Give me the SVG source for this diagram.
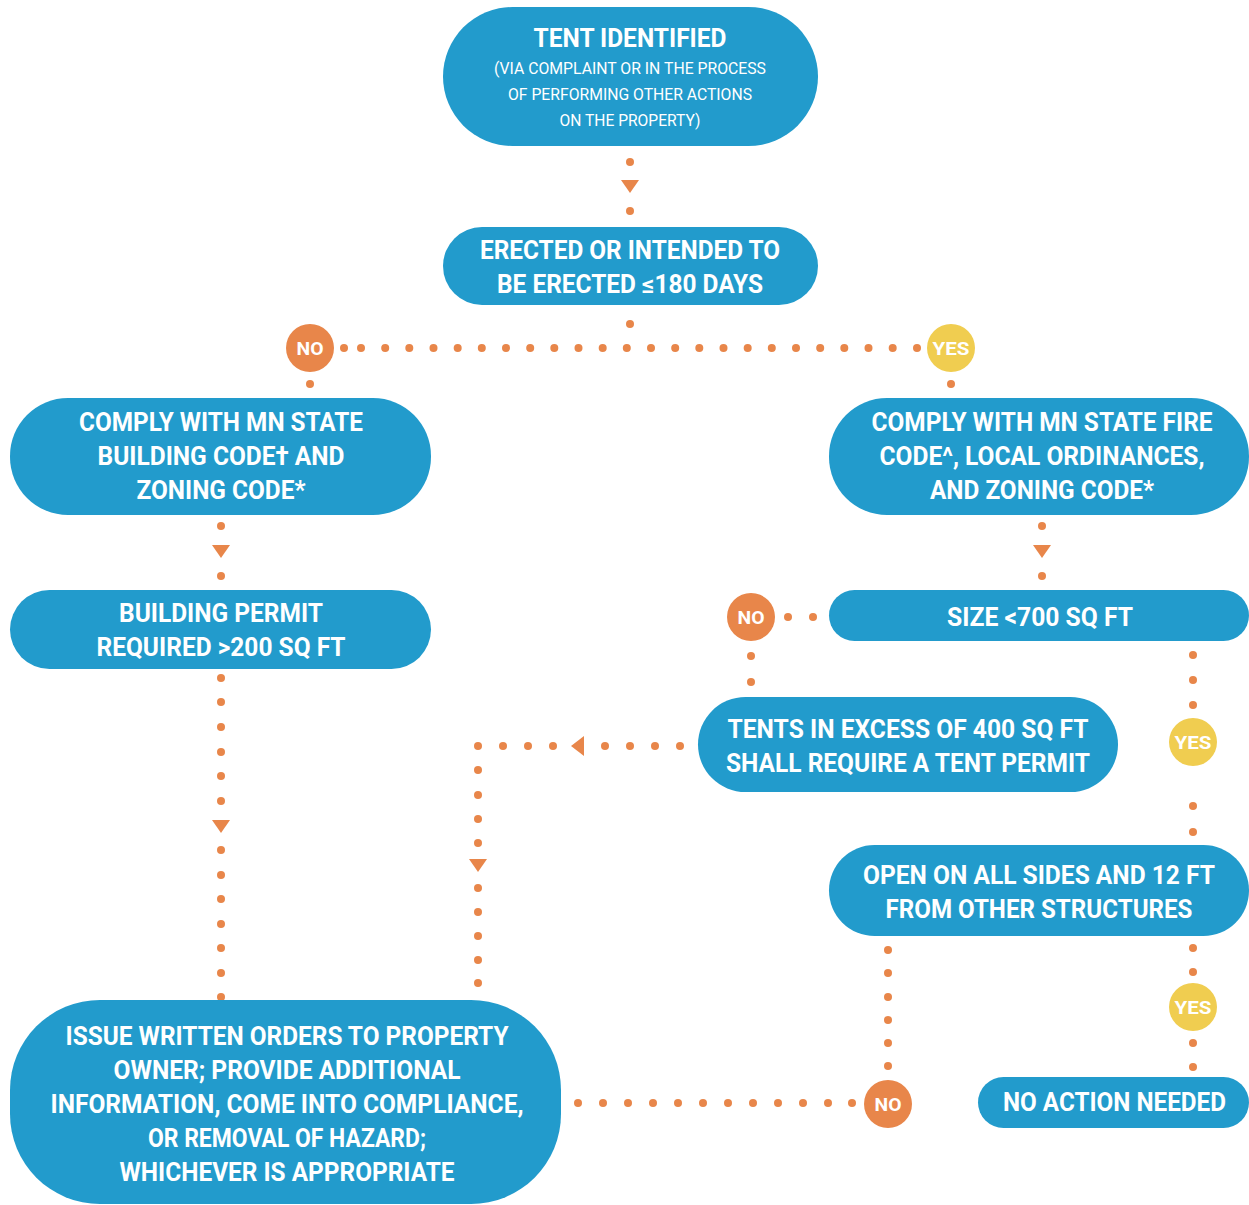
<svg xmlns="http://www.w3.org/2000/svg" width="1249" height="1205" viewBox="0 0 1249 1205">
<style>
.box{fill:#229bcc}
.t{font-family:Roboto,"Liberation Sans",sans-serif;font-weight:700;font-size:25px;fill:#fff;text-anchor:middle}
.s{font-family:Roboto,"Liberation Sans",sans-serif;font-weight:400;font-size:16.5px;fill:#fff;text-anchor:middle}
.b{font-family:Roboto,"Liberation Sans",sans-serif;font-weight:700;font-size:18px;fill:#fff;text-anchor:middle}
.no{fill:#e8864a}
.yes{fill:#f0cd50}
.d{fill:#e8864a}
</style>
<defs>
<circle id="dot" r="4" class="d"/>
<polygon id="tridown" points="-9,-6 9,-6 0,7" class="d"/>
<polygon id="trileft" points="-7,0 6,-10 6,10" class="d"/>
</defs>
<rect width="1249" height="1205" fill="#fff"/>
<g id="connectors">
  <use href="#dot" x="630" y="162"/><use href="#tridown" x="630" y="186"/><use href="#dot" x="630" y="211"/>
  <use href="#dot" x="630" y="324"/>
  <use href="#dot" x="344" y="348"/>
  <g id="hdots">
    <use href="#dot" x="361" y="348"/><use href="#dot" x="385.2" y="348"/><use href="#dot" x="409.3" y="348"/><use href="#dot" x="433.5" y="348"/><use href="#dot" x="457.7" y="348"/><use href="#dot" x="481.8" y="348"/><use href="#dot" x="506" y="348"/><use href="#dot" x="530.2" y="348"/><use href="#dot" x="554.3" y="348"/><use href="#dot" x="578.5" y="348"/><use href="#dot" x="602.7" y="348"/><use href="#dot" x="626.8" y="348"/><use href="#dot" x="651" y="348"/><use href="#dot" x="675.2" y="348"/><use href="#dot" x="699.3" y="348"/><use href="#dot" x="723.5" y="348"/><use href="#dot" x="747.7" y="348"/><use href="#dot" x="771.8" y="348"/><use href="#dot" x="796" y="348"/><use href="#dot" x="820.2" y="348"/><use href="#dot" x="844.3" y="348"/><use href="#dot" x="868.5" y="348"/><use href="#dot" x="892.7" y="348"/><use href="#dot" x="917" y="348"/>
  </g>
  <use href="#dot" x="310" y="384"/><use href="#dot" x="951" y="384"/>
  <use href="#dot" x="221" y="526"/><use href="#tridown" x="221" y="551"/><use href="#dot" x="221" y="576"/>
  <use href="#dot" x="1042" y="526"/><use href="#tridown" x="1042" y="551"/><use href="#dot" x="1042" y="576"/>
  <use href="#dot" x="221" y="678"/><use href="#dot" x="221" y="702"/><use href="#dot" x="221" y="727"/><use href="#dot" x="221" y="752"/><use href="#dot" x="221" y="776"/><use href="#dot" x="221" y="801"/>
  <use href="#tridown" x="221" y="826"/>
  <use href="#dot" x="221" y="850"/><use href="#dot" x="221" y="875"/><use href="#dot" x="221" y="899"/><use href="#dot" x="221" y="924"/><use href="#dot" x="221" y="948"/><use href="#dot" x="221" y="973"/><use href="#dot" x="221" y="997"/>
  <use href="#dot" x="788" y="617"/><use href="#dot" x="813" y="617"/>
  <use href="#dot" x="751" y="656"/><use href="#dot" x="751" y="682"/>
  <use href="#dot" x="1193" y="655"/><use href="#dot" x="1193" y="680"/><use href="#dot" x="1193" y="705"/>
  <use href="#dot" x="1193" y="806"/><use href="#dot" x="1193" y="832"/>
  <use href="#dot" x="680" y="746"/><use href="#dot" x="655" y="746"/><use href="#dot" x="630" y="746"/><use href="#dot" x="605" y="746"/>
  <use href="#trileft" x="578" y="746"/>
  <use href="#dot" x="553" y="746"/><use href="#dot" x="528" y="746"/><use href="#dot" x="503" y="746"/><use href="#dot" x="478" y="746"/>
  <use href="#dot" x="478" y="770"/><use href="#dot" x="478" y="795"/><use href="#dot" x="478" y="819"/><use href="#dot" x="478" y="843"/>
  <use href="#tridown" x="478" y="865"/>
  <use href="#dot" x="478" y="888"/><use href="#dot" x="478" y="912"/><use href="#dot" x="478" y="936"/><use href="#dot" x="478" y="960"/><use href="#dot" x="478" y="983"/>
  <use href="#dot" x="888" y="950"/><use href="#dot" x="888" y="973"/><use href="#dot" x="888" y="997"/><use href="#dot" x="888" y="1020"/><use href="#dot" x="888" y="1043"/><use href="#dot" x="888" y="1066"/>
  <use href="#dot" x="578" y="1103"/><use href="#dot" x="603" y="1103"/><use href="#dot" x="628" y="1103"/><use href="#dot" x="653" y="1103"/><use href="#dot" x="678" y="1103"/><use href="#dot" x="703" y="1103"/><use href="#dot" x="728" y="1103"/><use href="#dot" x="753" y="1103"/><use href="#dot" x="778" y="1103"/><use href="#dot" x="803" y="1103"/><use href="#dot" x="828" y="1103"/><use href="#dot" x="852" y="1103"/>
  <use href="#dot" x="1193" y="948"/><use href="#dot" x="1193" y="972"/>
  <use href="#dot" x="1193" y="1043"/><use href="#dot" x="1193" y="1067"/>
</g>
<g id="tent-identified">
  <rect class="box" x="443" y="7" width="375" height="139" rx="69.5"/>
  <text class="t" x="630" y="47" font-size="26" textLength="193" lengthAdjust="spacingAndGlyphs">TENT IDENTIFIED</text>
  <text class="s" x="630" y="74" textLength="272" lengthAdjust="spacingAndGlyphs">(VIA COMPLAINT OR IN THE PROCESS</text>
  <text class="s" x="630" y="100" textLength="244" lengthAdjust="spacingAndGlyphs">OF PERFORMING OTHER ACTIONS</text>
  <text class="s" x="630" y="126" textLength="141" lengthAdjust="spacingAndGlyphs">ON THE PROPERTY)</text>
</g>
<g id="erected">
  <rect class="box" x="443" y="227" width="375" height="78" rx="39"/>
  <text class="t" x="630" y="259" textLength="300" lengthAdjust="spacingAndGlyphs">ERECTED OR INTENDED TO</text>
  <text class="t" x="630" y="293" textLength="266" lengthAdjust="spacingAndGlyphs">BE ERECTED ≤180 DAYS</text>
</g>
<g id="no1">
  <circle class="no" cx="310" cy="348" r="24"/>
  <text class="b" x="310" y="355" textLength="27" lengthAdjust="spacingAndGlyphs">NO</text>
</g>
<g id="yes1">
  <circle class="yes" cx="951" cy="348" r="24"/>
  <text class="b" x="951" y="355" textLength="37" lengthAdjust="spacingAndGlyphs">YES</text>
</g>
<g id="comply-building">
  <rect class="box" x="10" y="398" width="421" height="117" rx="58"/>
  <text class="t" x="221" y="431" textLength="284" lengthAdjust="spacingAndGlyphs">COMPLY WITH MN STATE</text>
  <text class="t" x="221" y="465" textLength="247" lengthAdjust="spacingAndGlyphs">BUILDING CODE† AND</text>
  <text class="t" x="221" y="499" textLength="169" lengthAdjust="spacingAndGlyphs">ZONING CODE*</text>
</g>
<g id="comply-fire">
  <rect class="box" x="829" y="398" width="420" height="117" rx="58"/>
  <text class="t" x="1042" y="431" textLength="341" lengthAdjust="spacingAndGlyphs">COMPLY WITH MN STATE FIRE</text>
  <text class="t" x="1042" y="465" textLength="325" lengthAdjust="spacingAndGlyphs">CODE^, LOCAL ORDINANCES,</text>
  <text class="t" x="1042" y="499" textLength="224" lengthAdjust="spacingAndGlyphs">AND ZONING CODE*</text>
</g>
<g id="building-permit">
  <rect class="box" x="10" y="590" width="421" height="79" rx="39.5"/>
  <text class="t" x="221" y="622" textLength="204" lengthAdjust="spacingAndGlyphs">BUILDING PERMIT</text>
  <text class="t" x="221" y="656" textLength="249" lengthAdjust="spacingAndGlyphs">REQUIRED &gt;200 SQ FT</text>
</g>
<g id="size">
  <rect class="box" x="829" y="590" width="420" height="51" rx="25.5"/>
  <text class="t" x="1040" y="626" textLength="186" lengthAdjust="spacingAndGlyphs">SIZE &lt;700 SQ FT</text>
</g>
<g id="no2">
  <circle class="no" cx="751" cy="617" r="24"/>
  <text class="b" x="751" y="624" textLength="27" lengthAdjust="spacingAndGlyphs">NO</text>
</g>
<g id="tent-permit">
  <rect class="box" x="698" y="697" width="420" height="95" rx="47.5"/>
  <text class="t" x="908" y="738" textLength="361" lengthAdjust="spacingAndGlyphs">TENTS IN EXCESS OF 400 SQ FT</text>
  <text class="t" x="908" y="772" textLength="364" lengthAdjust="spacingAndGlyphs">SHALL REQUIRE A TENT PERMIT</text>
</g>
<g id="yes2">
  <circle class="yes" cx="1193" cy="742" r="24"/>
  <text class="b" x="1193" y="749" textLength="37" lengthAdjust="spacingAndGlyphs">YES</text>
</g>
<g id="open-sides">
  <rect class="box" x="829" y="845" width="420" height="91" rx="45.5"/>
  <text class="t" x="1039" y="884" textLength="352" lengthAdjust="spacingAndGlyphs">OPEN ON ALL SIDES AND 12 FT</text>
  <text class="t" x="1039" y="918" textLength="307" lengthAdjust="spacingAndGlyphs">FROM OTHER STRUCTURES</text>
</g>
<g id="yes3">
  <circle class="yes" cx="1193" cy="1007" r="24"/>
  <text class="b" x="1193" y="1014" textLength="37" lengthAdjust="spacingAndGlyphs">YES</text>
</g>
<g id="no3">
  <circle class="no" cx="888" cy="1104" r="24"/>
  <text class="b" x="888" y="1111" textLength="27" lengthAdjust="spacingAndGlyphs">NO</text>
</g>
<g id="no-action">
  <rect class="box" x="978" y="1077" width="271" height="51" rx="25.5"/>
  <text class="t" x="1114.5" y="1111" textLength="223" lengthAdjust="spacingAndGlyphs">NO ACTION NEEDED</text>
</g>
<g id="issue-orders">
  <rect class="box" x="10" y="1000" width="551" height="204" rx="90"/>
  <text class="t" x="287" y="1045" textLength="443" lengthAdjust="spacingAndGlyphs">ISSUE WRITTEN ORDERS TO PROPERTY</text>
  <text class="t" x="287" y="1079" textLength="347" lengthAdjust="spacingAndGlyphs">OWNER; PROVIDE ADDITIONAL</text>
  <text class="t" x="287" y="1113" textLength="473" lengthAdjust="spacingAndGlyphs">INFORMATION, COME INTO COMPLIANCE,</text>
  <text class="t" x="287" y="1147" textLength="278" lengthAdjust="spacingAndGlyphs">OR REMOVAL OF HAZARD;</text>
  <text class="t" x="287" y="1181" textLength="335" lengthAdjust="spacingAndGlyphs">WHICHEVER IS APPROPRIATE</text>
</g>
</svg>
